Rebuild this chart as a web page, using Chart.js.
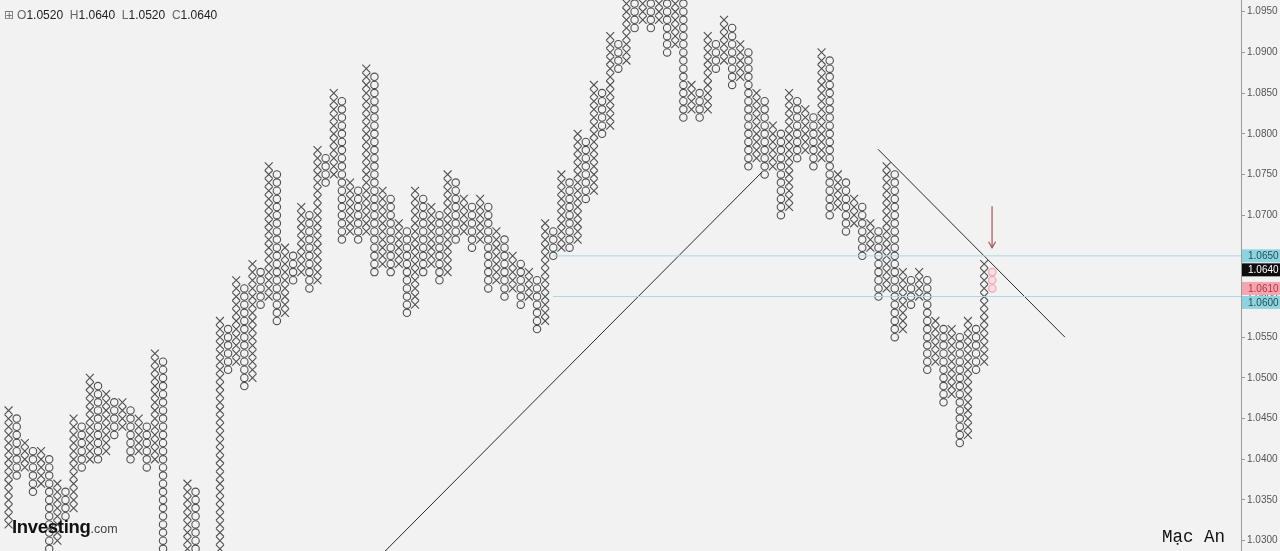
<!DOCTYPE html>
<html><head><meta charset="utf-8">
<script src="https://cdn.jsdelivr.net/npm/chart.js@4.4.0/dist/chart.umd.min.js"></script>
<style>
html,body{margin:0;padding:0;background:#f2f2f2;}
#wrap{position:relative;width:1280px;height:551px;overflow:hidden;background:#f2f2f2;}
canvas{position:absolute;left:0;top:0;}
.ohlc{position:absolute;left:4px;top:8px;font:12px "Liberation Sans",Arial,sans-serif;color:#222;white-space:pre;}
.ohlc .k{color:#666;}
.ohlc .ic{font-family:"DejaVu Sans";color:#777;font-size:12px;margin-right:3px;}
.logo{position:absolute;left:12px;top:516px;font:bold 18.5px "Liberation Sans",Arial,sans-serif;color:#111;letter-spacing:-0.3px;}
.logo span{font-weight:normal;font-size:12.5px;color:#444;letter-spacing:0;}
.sig{position:absolute;left:1162px;top:527px;font:17.5px "Liberation Mono","DejaVu Sans Mono",monospace;color:#111;}
</style></head><body>
<div id="wrap"><canvas id="c" width="1280" height="551"></canvas>
<div class="ohlc"><span class="ic">⊞</span><span class="k">O</span>1.0520  <span class="k">H</span>1.0640  <span class="k">L</span>1.0520  <span class="k">C</span>1.0640</div>
<div class="logo">Investing<span>.com</span></div>
<div class="sig">Mạc An</div>
</div>
<script>
// Point & Figure columns (box size 0.0010); column number = index + 1
const colTypes = ['X','O','X','O','X','O','X','O','X','O','X','O','X','O','X','O','X','O','X',
 'O','X','O','X','O','X','O','X','O','X','O','X','O','X','O','X','O','X','O','X',
 'O','X','O','X','O','X','O','X','O','X','O','X','O','X','O','X','O','X','O','X',
 'O','X','O','X','O','X','O','X','O','X','O','X','O','X','O','X','O','X','O','X',
 'O','X','O','X','O','X','O','X','O','X','O','X','O','X','O','X','O','X','O','X',
 'O','X','O','X','O','X','O','X','O','X','O','X','O','X','O','X','O','X','O','X',
 'O','X','P'];
const colHighs = [1.0460,1.0450,1.0420,1.0410,1.0410,1.0400,1.0370,1.0360,1.0450,
 1.0440,1.0500,1.0490,1.0480,1.0470,1.0470,1.0460,1.0450,1.0440,1.0530,
 1.0520,1.0250,1.0240,1.0370,1.0360,1.0230,1.0220,1.0570,1.0560,1.0620,
 1.0610,1.0640,1.0630,1.0760,1.0750,1.0660,1.0650,1.0710,1.0700,1.0780,
 1.0770,1.0850,1.0840,1.0740,1.0730,1.0880,1.0870,1.0730,1.0720,1.0690,
 1.0680,1.0730,1.0720,1.0710,1.0700,1.0750,1.0740,1.0720,1.0710,1.0720,
 1.0710,1.0680,1.0670,1.0650,1.0640,1.0630,1.0620,1.0690,1.0680,1.0750,
 1.0740,1.0800,1.0790,1.0860,1.0850,1.0920,1.0910,1.0970,1.0960,1.0970,
 1.0960,1.0970,1.0960,1.0970,1.0960,1.0860,1.0850,1.0920,1.0910,1.0940,
 1.0930,1.0910,1.0900,1.0850,1.0840,1.0810,1.0800,1.0850,1.0840,1.0830,
 1.0820,1.0900,1.0890,1.0750,1.0740,1.0720,1.0710,1.0690,1.0680,1.0760,
 1.0750,1.0630,1.0620,1.0630,1.0620,1.0570,1.0560,1.0560,1.0550,1.0570,
 1.0560,1.0640,1.0630];
const colLows = [1.0320,1.0380,1.0390,1.0360,1.0370,1.0290,1.0300,1.0330,1.0340,
 1.0390,1.0400,1.0400,1.0410,1.0430,1.0440,1.0400,1.0410,1.0390,1.0400,
 1.0200,1.0210,1.0190,1.0200,1.0180,1.0190,1.0170,1.0180,1.0510,1.0520,
 1.0490,1.0500,1.0590,1.0600,1.0570,1.0580,1.0620,1.0630,1.0610,1.0620,
 1.0740,1.0750,1.0670,1.0680,1.0670,1.0680,1.0630,1.0640,1.0630,1.0640,
 1.0580,1.0590,1.0630,1.0640,1.0620,1.0630,1.0670,1.0680,1.0660,1.0670,
 1.0610,1.0620,1.0600,1.0610,1.0590,1.0600,1.0560,1.0570,1.0650,1.0660,
 1.0660,1.0670,1.0720,1.0730,1.0800,1.0810,1.0880,1.0890,1.0930,1.0940,
 1.0930,1.0940,1.0900,1.0910,1.0820,1.0830,1.0820,1.0830,1.0880,1.0890,
 1.0860,1.0870,1.0760,1.0770,1.0750,1.0760,1.0700,1.0710,1.0770,1.0780,
 1.0760,1.0770,1.0700,1.0710,1.0680,1.0690,1.0650,1.0660,1.0600,1.0610,
 1.0550,1.0560,1.0590,1.0600,1.0510,1.0520,1.0470,1.0480,1.0420,1.0430,
 1.0510,1.0520,1.0610];
const tickValues = [1.0300,1.0350,1.0400,1.0450,1.0500,1.0550,1.0600,1.0650,1.0700,1.0750,1.0800,1.0850,1.0900,1.0950];
const levelValues = [1.0650, 1.0600];
const levelStartCol = 67.96;
const markerValues = [1.0650, 1.0640, 1.0610, 1.0600];
const markerBg = ['#8fd3df', '#0d0d0d', '#f3a6b0', '#8fd3df'];
const markerFg = ['#1f4f58', '#ffffff', '#b8323f', '#1f4f58'];
const trend1 = [{x:47.30, y:1.0287}, {x:93.68, y:1.0753}];
const trend2 = [{x:107.94, y:1.0781}, {x:130.94, y:1.0550}];
const arrowFrom = {x:121.97, y:1.0711};
const arrowTo = {x:121.97, y:1.0660};

const X_MIN = -0.054, X_MAX = 152.59, Y_MIN = 1.02873, Y_MAX = 1.09644;

const xPts = [], oPts = [], pPts = [];
colTypes.forEach((t, i) => {
  const hi = Math.round(colHighs[i] * 10000), lo = Math.round(colLows[i] * 10000);
  for (let v = lo; v <= hi; v += 10) {
    const pt = {x: i + 1, y: v / 10000};
    if (t === 'X') xPts.push(pt); else if (t === 'O') oPts.push(pt); else pPts.push(pt);
  }
});

const lineDs = (data, color, w) => ({type:'line', data, borderColor:color, borderWidth:w, pointRadius:0, showLine:true, fill:false, tension:0});

const overlay = {
  id:'overlay',
  afterDraw(chart) {
    const ctx = chart.ctx, xs = chart.scales.x, ys = chart.scales.y;
    const ax = xs.getPixelForValue(arrowFrom.x), ay1 = ys.getPixelForValue(arrowFrom.y), ay2 = ys.getPixelForValue(arrowTo.y);
    ctx.save();
    ctx.strokeStyle = '#a8505a'; ctx.lineWidth = 1.2;
    ctx.beginPath(); ctx.moveTo(ax, ay1); ctx.lineTo(ax, ay2); ctx.stroke();
    ctx.beginPath(); ctx.moveTo(ax - 3.5, ay2 - 6); ctx.lineTo(ax, ay2); ctx.lineTo(ax + 3.5, ay2 - 6); ctx.stroke();
    const left = chart.chartArea.right + 1;
    let prevBottom = -1e9;
    ctx.font = '10px "Liberation Sans", Arial, sans-serif';
    ctx.textBaseline = 'middle';
    markerValues.forEach((v, i) => {
      let top = ys.getPixelForValue(v) - 6.5;
      if (top < prevBottom + 1) top = prevBottom + 1;
      ctx.fillStyle = markerBg[i];
      ctx.fillRect(left, top, 1280 - left, 13);
      ctx.fillStyle = markerFg[i];
      ctx.fillText(v.toFixed(4), left + 6, top + 7);
      prevBottom = top + 13;
    });
    ctx.restore();
  }
};

new Chart(document.getElementById('c'), {
  type: 'scatter',
  data: { datasets: [
    lineDs([{x:levelStartCol, y:levelValues[0]}, {x:X_MAX, y:levelValues[0]}], '#a9d7e4', 1),
    lineDs([{x:levelStartCol, y:levelValues[1]}, {x:X_MAX, y:levelValues[1]}], '#a9d7e4', 1),
    lineDs(trend1, '#2a2a2a', 1),
    lineDs(trend2, '#2a2a2a', 1),
    {data:xPts, pointStyle:'crossRot', pointRadius:5.6, pointBorderWidth:1.1, borderColor:'#505050', backgroundColor:'rgba(0,0,0,0)'},
    {data:oPts, pointStyle:'circle', pointRadius:3.7, pointBorderWidth:1.1, borderColor:'#505050', backgroundColor:'rgba(0,0,0,0)'},
    {data:pPts, pointStyle:'circle', pointRadius:3.7, pointBorderWidth:1.1, borderColor:'#f0a3b0', backgroundColor:'#f9dde3'}
  ]},
  options: {
    responsive:false, animation:false, events:[],
    layout:{padding:0, autoPadding:false},
    plugins:{legend:{display:false}, tooltip:{enabled:false}},
    scales:{
      x:{type:'linear', min:X_MIN, max:X_MAX, display:false},
      y:{type:'linear', position:'right', min:Y_MIN, max:Y_MAX,
        afterBuildTicks: s => { s.ticks = tickValues.map(v => ({value:v})); },
        afterFit: s => { s.width = 39; s.paddingTop = 0; s.paddingBottom = 0; },
        ticks:{callback: v => Number(v).toFixed(4), font:{family:'Liberation Sans', size:10}, color:'#555', padding:2},
        grid:{drawOnChartArea:false, drawTicks:true, tickLength:4, color:'#999'},
        border:{display:true, color:'#999'}
      }
    }
  },
  plugins:[overlay]
});
</script>
</body></html>
